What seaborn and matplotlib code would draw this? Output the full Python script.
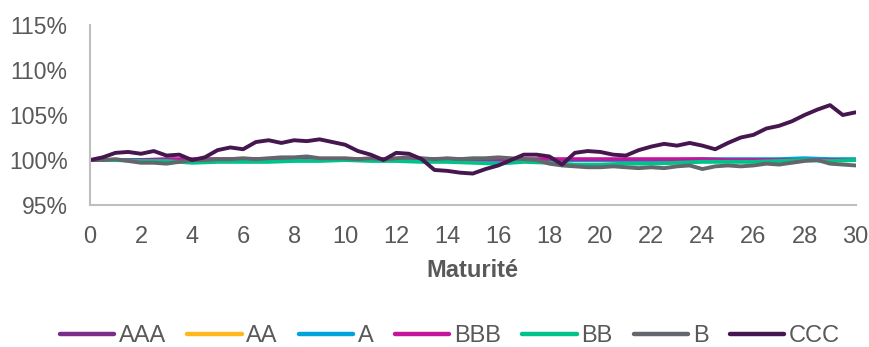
import numpy as np
import pandas as pd
import matplotlib
matplotlib.use("Agg")
import matplotlib.pyplot as plt
from matplotlib.ticker import PercentFormatter
import seaborn as sns

# Maturités (années)
maturite = list(range(0, 31))
maturite_fine = [i / 2 for i in range(0, 61)]

# Valeurs (%)
aaa = [100.0] * 31
aa = [100.0] * 31
a = [100.0, 100.0, 100.0, 100.0, 99.9, 99.9, 99.9, 100.0, 100.0, 100.0, 100.0,
     100.0, 100.0, 100.0, 100.0, 100.0, 100.0, 100.0, 100.0, 100.0, 100.0,
     100.0, 100.0, 100.0, 100.1, 100.1, 100.1, 100.1, 100.2, 100.1, 100.1]
bbb = [100.0, 100.0, 100.0, 100.1, 100.1, 100.1, 100.1, 100.1, 100.1, 100.1, 100.1,
       100.1, 100.1, 100.1, 100.1, 100.1, 100.1, 100.1, 100.1, 100.1, 100.1,
       100.1, 100.1, 100.1, 100.1, 100.0, 100.0, 100.0, 100.0, 100.0, 100.0]
bb = [100.0, 100.0, 99.9, 99.9, 99.7, 99.8, 99.8, 99.8, 99.9, 99.9, 100.0,
      99.9, 99.9, 99.8, 99.8, 99.7, 99.6, 99.8, 99.7, 99.5, 99.5,
      99.6, 99.6, 99.7, 99.8, 99.8, 99.8, 99.9, 100.0, 99.9, 100.0]
b = [100.0, 100.0, 100.1, 99.9, 99.7, 99.7, 99.6, 99.8, 100.0, 100.0,
     100.1, 100.1, 100.2, 100.1, 100.2, 100.3, 100.3, 100.4, 100.2, 100.2,
     100.2, 100.1, 100.2, 100.1, 100.2, 100.3, 100.2, 100.1, 100.2, 100.1,
     100.2, 100.2, 100.3, 100.2, 100.1, 100.0, 99.6, 99.4, 99.3, 99.2,
     99.2, 99.3, 99.2, 99.1, 99.2, 99.1, 99.3, 99.4, 99.0, 99.3,
     99.4, 99.3, 99.4, 99.6, 99.5, 99.7, 99.9, 100.0, 99.6, 99.5, 99.4]
ccc = [100.0, 100.3, 100.8, 100.9, 100.7, 101.0, 100.5, 100.6, 100.0, 100.3,
       101.1, 101.4, 101.2, 102.0, 102.2, 101.9, 102.2, 102.1, 102.3, 102.0,
       101.7, 101.0, 100.6, 100.0, 100.8, 100.7, 100.1, 98.9, 98.8, 98.6,
       98.5, 99.0, 99.4, 100.0, 100.6, 100.6, 100.4, 99.5, 100.8, 101.0,
       100.9, 100.6, 100.5, 101.1, 101.5, 101.8, 101.6, 101.9, 101.6, 101.2,
       101.9, 102.5, 102.8, 103.5, 103.8, 104.3, 105.0, 105.6, 106.1, 105.0, 105.3]

notes = ["AAA", "AA", "A", "BBB", "BB", "B", "CCC"]
couleurs = ["#7B2C8B", "#FFB81C", "#00A3DA", "#C4169C", "#00C389", "#63666A", "#46164F"]

series = {"AAA": (maturite, aaa), "AA": (maturite, aa), "A": (maturite, a),
          "BBB": (maturite, bbb), "BB": (maturite, bb), "B": (maturite_fine, b),
          "CCC": (maturite_fine, ccc)}
frames = [pd.DataFrame({"Maturité": x, "Valeur": y, "Note": n}) for n, (x, y) in series.items()]
df = pd.concat(frames, ignore_index=True)

sns.set_style("white")
plt.rcParams["font.family"] = ["Liberation Sans", "DejaVu Sans"]

fig = plt.figure(figsize=(8.7, 3.47), dpi=100)
ax = fig.add_axes([0.1034, 0.409, 0.880, 0.519])
sns.lineplot(data=df, x="Maturité", y="Valeur", hue="Note", hue_order=notes,
             palette=couleurs, linewidth=2.8, ax=ax, legend=True)

ax.set_xlim(0, 30)
ax.set_ylim(95, 115)
ax.set_xticks(range(0, 31, 2))
ax.set_yticks(range(95, 116, 5))
ax.yaxis.set_major_formatter(PercentFormatter(decimals=0))
ax.tick_params(axis="both", length=0, labelcolor="#595959")
ax.tick_params(axis="y", pad=16, labelsize=16.5)
ax.tick_params(axis="x", pad=15, labelsize=17)
ax.set_ylabel("")
ax.set_xlabel("Maturité", fontsize=17, fontweight="bold", color="#595959", labelpad=8)
for s in ["top", "right"]:
    ax.spines[s].set_visible(False)
for s in ["left", "bottom"]:
    ax.spines[s].set_color("#BFBFBF")
    ax.spines[s].set_linewidth(1.5)

sns.move_legend(ax, "center", bbox_to_anchor=(0.517, 0.032), bbox_transform=fig.transFigure,
                ncol=7, frameon=False, title=None, fontsize=17, handlelength=2.3,
                handletextpad=0.2, columnspacing=0.9, borderpad=0)
leg = ax.get_legend()
for t in leg.get_texts():
    t.set_color("#595959")
for h in leg.legend_handles:
    h.set_linewidth(3.2)

fig.savefig("out.png", dpi=100)
